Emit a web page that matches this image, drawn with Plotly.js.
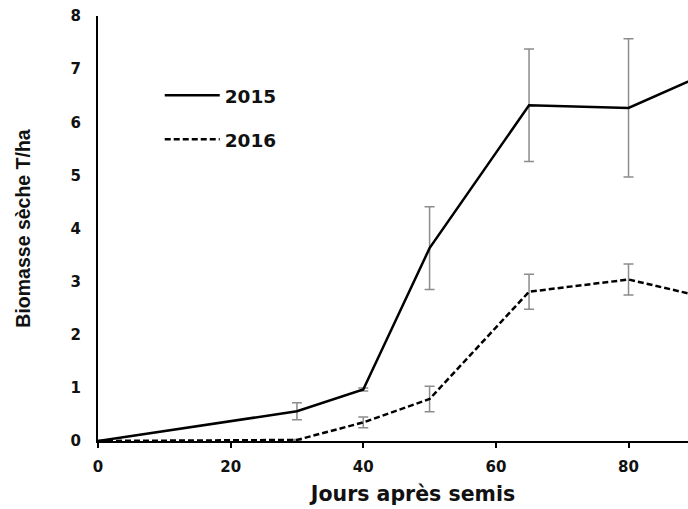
<!DOCTYPE html>
<html>
<head>
<meta charset="utf-8">
<script src="https://cdn.plot.ly/plotly-3.0.1.min.js"></script>
<style>
  html, body { margin: 0; padding: 0; overflow: hidden; background: #fff; }
  #chart { width: 728px; height: 509px; }
</style>
</head>
<body>
<div id="chart"></div>
<script>
// Days after sowing
const days = [0, 30, 40, 50, 65, 80, 90];
// Dry biomass (T/ha)
const biomass2015 = [0, 0.56, 0.97, 3.63, 6.32, 6.27, 6.82];
const err2015     = [0, 0.16, 0.03, 0.78, 1.06, 1.30, 0.73];
const biomass2016 = [0, 0.02, 0.35, 0.79, 2.81, 3.04, 2.75];
const err2016     = [0, 0.01, 0.10, 0.24, 0.33, 0.29, 0.66];
const seriesNames = ['2015', '2016'];
const xTitle = 'Jours après semis';
const yTitle = 'Biomasse sèche T/ha';

const errStyle = { type: 'data', visible: true, color: '#8c8c8c', thickness: 1.5, width: 5 };

const traces = [
  {
    x: days, y: biomass2015, name: seriesNames[0], legendgroup: 'a',
    type: 'scatter', mode: 'lines',
    line: { color: '#000', width: 2.5 },
    error_y: Object.assign({ array: err2015 }, errStyle)
  },
  {
    x: days, y: biomass2016, name: seriesNames[1], legendgroup: 'b',
    type: 'scatter', mode: 'lines',
    line: { color: '#000', width: 2.5, dash: '6px,3px' },
    error_y: Object.assign({ array: err2016 }, errStyle)
  }
];

const tickFont = { family: 'DejaVu Sans', size: 15, color: '#111', weight: 'bold' };

const layout = {
  width: 728, height: 509,
  margin: { l: 98, r: 0, t: 16, b: 68 },
  paper_bgcolor: '#fff', plot_bgcolor: '#fff',
  showlegend: true,
  legend: {
    x: 0.098, y: 0.857, xanchor: 'left', yanchor: 'top',
    font: { family: 'DejaVu Sans', size: 18.5, color: '#111', weight: 'bold' },
    tracegroupgap: 17, itemwidth: 55, bgcolor: 'rgba(0,0,0,0)'
  },
  xaxis: {
    range: [0, 95], dtick: 20, tick0: 0,
    showgrid: false, zeroline: false,
    showline: true, linecolor: '#000', linewidth: 2,
    ticks: 'outside', ticklen: 5, tickwidth: 2, tickcolor: '#000',
    tickfont: tickFont, ticklabelstandoff: 6,
    title: { text: xTitle, font: { family: 'DejaVu Sans', size: 20.5, color: '#111', weight: 'bold' }, standoff: 12 },
    automargin: false
  },
  yaxis: {
    range: [0, 8], dtick: 1, tick0: 0,
    showgrid: false, zeroline: false,
    showline: true, linecolor: '#000', linewidth: 2,
    ticks: '', tickfont: tickFont, ticklabelstandoff: 12,
    title: { text: yTitle, font: { family: 'Liberation Sans', size: 19.5, color: '#111', weight: 'bold' }, standoff: 35 },
    automargin: false
  }
};

Plotly.newPlot('chart', traces, layout, { staticPlot: true, displayModeBar: false });
</script>
</body>
</html>
